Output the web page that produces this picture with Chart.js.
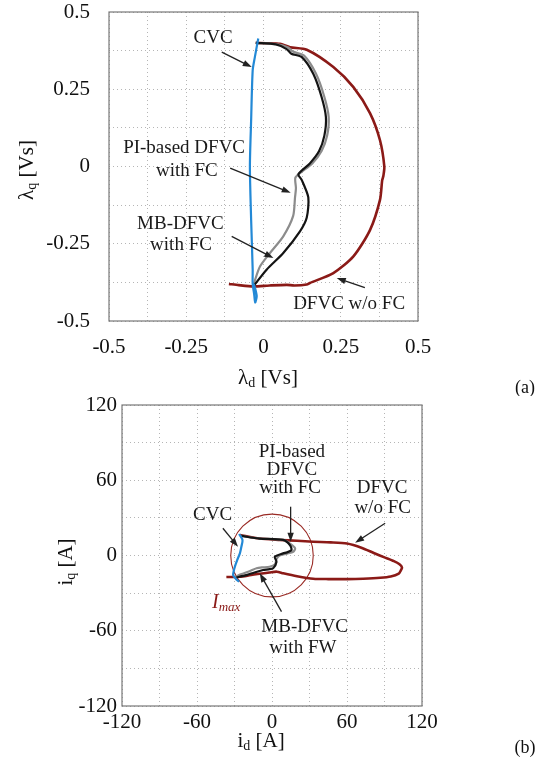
<!DOCTYPE html>
<html><head><meta charset="utf-8">
<script src="https://cdn.jsdelivr.net/npm/chart.js@4.4.0/dist/chart.umd.min.js"></script>
<style>
html,body{margin:0;padding:0;background:#fff;}
#wrap{position:relative;width:549px;height:767px;overflow:hidden;background:#fff;}
canvas{position:absolute;left:0;}
</style></head><body>
<div id="wrap">
<canvas id="ca" width="549" height="396" style="top:0;width:549px;height:396px"></canvas>
<canvas id="cb" width="549" height="371" style="top:396px;width:549px;height:371px"></canvas>
</div>
<script>
// ---------- (a) flux plane data ----------
const aGrid   = [-0.5,-0.375,-0.25,-0.125,0,0.125,0.25,0.375,0.5];
const aTicks  = [-0.5,-0.25,0,0.25,0.5];
const aCvcX = [-0.017,-0.028,-0.035,-0.040,-0.044,-0.040,-0.035,-0.035,-0.030,-0.027,-0.022,-0.027,-0.032];
const aCvcY = [0.414,0.354,0.311,0.150,0.000,-0.173,-0.334,-0.380,-0.415,-0.440,-0.420,-0.395,-0.380];
const aMbX = [-0.025,0.040,0.075,0.090,0.124,0.161,0.188,0.202,0.197,0.180,0.150,0.113,0.124,0.145,0.140,0.118,0.064,0.010,-0.033];
const aMbY = [0.400,0.395,0.380,0.365,0.354,0.300,0.225,0.160,0.100,0.050,0.010,-0.025,-0.044,-0.100,-0.165,-0.210,-0.280,-0.334,-0.388];
const aPiX = [-0.025,0.040,0.080,0.095,0.132,0.170,0.197,0.211,0.206,0.188,0.158,0.120,0.103,0.105,0.102,0.096,0.064,0.021,-0.011,-0.027,-0.033];
const aPiY = [0.400,0.396,0.385,0.372,0.358,0.300,0.225,0.160,0.100,0.050,0.010,-0.020,-0.037,-0.070,-0.100,-0.160,-0.226,-0.280,-0.323,-0.366,-0.388];
const aRedX = [-0.025,0.020,0.053,0.086,0.140,0.226,0.291,0.345,0.377,0.391,0.388,0.384,0.377,0.345,0.291,0.226,0.150,0.140,0.100,0.075,0.020,-0.033,-0.080,-0.112];
const aRedY = [0.400,0.399,0.397,0.386,0.378,0.322,0.257,0.172,0.085,0.000,-0.030,-0.045,-0.108,-0.205,-0.291,-0.345,-0.377,-0.382,-0.385,-0.383,-0.385,-0.388,-0.384,-0.380];

// ---------- (b) current plane data ----------
const bGrid  = [-120,-90,-60,-30,0,30,60,90,120];
const bTicks = [-120,-60,0,60,120];
const bImax = 33;
const bCvcX = [-26.3,-23.6,-24.5,-25.7,-28,-29.7,-31.1,-29,-26.3];
const bCvcY = [17.1,12.4,7,1.7,-4,-8.9,-15.6,-18.5,-20.9];
const bMbX = [-24.5,-10,8.9,14.3,15.6,12,8.9,2.2,3.6,0.9,-3,-7.1,-14,-20.5,-28.5];
const bMbY = [15.6,13.5,12.4,8.4,4.4,2.5,1.7,-1,-5,-10.2,-11,-11.6,-13.5,-15.6,-17.4];
const bPiX = [-24.5,-10,8.9,15,18.5,17,12,6,3.5,2.5,-2,-8,-12.4,-18,-25,-30];
const bPiY = [15.6,13.5,12.4,9,5.7,3,1.5,0,-3,-7,-9,-9.5,-10.2,-12.5,-15,-17.5];
const bRedX = [-25.7,-10,6.4,20,33,47,60,72,81.4,90,97.5,102,104,103,101.4,95,86.6,73,60,45,33,20,9,3.8,-2,-9.8,-18,-25.8,-36.5];
const bRedY = [16.4,13.5,12.4,11.7,11,10.5,9.5,6,2,-1.5,-4.5,-7,-9.5,-12,-14.5,-16.8,-17.8,-18.5,-18.8,-18.8,-18.5,-16.5,-14.2,-12.9,-13.5,-14.5,-15.8,-16.9,-17.2];

// ---------- annotations (data coordinates) ----------
const aNotes = [
  {t:'CVC', x:-0.163, y:0.415},
  {t:'PI-based DFVC', x:-0.257, y:0.060},
  {t:'with FC', x:-0.248, y:-0.015},
  {t:'MB-DFVC', x:-0.269, y:-0.187},
  {t:'with FC', x:-0.267, y:-0.253},
  {t:'DFVC w/o FC', x:0.277, y:-0.444}
];
const aArrows = [
  [-0.135,0.370,-0.038,0.322],
  [-0.108,-0.005,0.088,-0.085],
  [-0.103,-0.226,0.032,-0.296],
  [0.328,-0.392,0.237,-0.361]
];
const bNotes = [
  {t:'PI-based', x:15.9, y:82.5},
  {t:'DFVC', x:15.9, y:68.2},
  {t:'with FC', x:14.5, y:53.8},
  {t:'DFVC', x:88.1, y:53.8},
  {t:'w/o FC', x:88.5, y:37.5},
  {t:'CVC', x:-47.5, y:32.3},
  {t:'MB-DFVC', x:26.1, y:-57.4},
  {t:'with FW', x:24.7, y:-73.4}
];
const bArrows = [
  [14.9,38.9,14.9,11],
  [90.5,25.7,66.5,10.2],
  [-39.3,21.7,-27.2,7],
  [7.6,-44.8,-9.8,-14.2]
];

const SERIF = '"Liberation Serif", "DejaVu Serif", serif';
const RED = '#8b1a17', BLUE = '#2389d6', BLACK = '#141414', GRAY = '#8c8c8c';
const W = 549;

function pts(xs, ys){ return xs.map((x,i)=>({x:x, y:ys[i]})); }
function ds(xs, ys, color, w){
  return {data: pts(xs,ys), showLine:true, borderColor:color, backgroundColor:color, borderWidth:w, pointRadius:0, tension:0.25};
}

function drawArrow(ctx, x1,y1,x2,y2){
  ctx.save();
  ctx.strokeStyle='#222'; ctx.fillStyle='#222'; ctx.lineWidth=1.3;
  const a=Math.atan2(y2-y1,x2-x1), hl=9, hw=3.2;
  ctx.beginPath(); ctx.moveTo(x1,y1); ctx.lineTo(x2-hl*0.8*Math.cos(a), y2-hl*0.8*Math.sin(a)); ctx.stroke();
  ctx.beginPath(); ctx.moveTo(x2,y2);
  ctx.lineTo(x2-hl*Math.cos(a)+hw*Math.sin(a), y2-hl*Math.sin(a)-hw*Math.cos(a));
  ctx.lineTo(x2-hl*Math.cos(a)-hw*Math.sin(a), y2-hl*Math.sin(a)+hw*Math.cos(a));
  ctx.closePath(); ctx.fill();
  ctx.restore();
}
function drawRich(ctx, parts, cx, cy, rot, color, align){
  ctx.save();
  ctx.translate(cx, cy); if (rot) ctx.rotate(rot);
  let w=0;
  parts.forEach(p=>{ ctx.font=p.font; p.w=ctx.measureText(p.t).width; w+=p.w; });
  let x = align==='left' ? 0 : -w/2;
  ctx.textBaseline='middle'; ctx.textAlign='left'; ctx.fillStyle=color||'#111';
  parts.forEach(p=>{ ctx.font=p.font; ctx.fillText(p.t, x, p.dy||0); x+=p.w; });
  ctx.restore();
}

function makeChart(id, H, area, cfg){
  const deco = {
    id:'deco'+id,
    beforeDatasetsDraw(chart){
      const ctx=chart.ctx, ca=chart.chartArea, xs=chart.scales.x, ys=chart.scales.y;
      ctx.save();
      ctx.strokeStyle='#777'; ctx.lineWidth=1.2;
      ctx.strokeRect(ca.left, ca.top, ca.right-ca.left, ca.bottom-ca.top);
      ctx.restore();
      if (cfg.circle){
        const cx=xs.getPixelForValue(0), cy=ys.getPixelForValue(0);
        const rx=xs.getPixelForValue(cfg.circle)-cx, ry=cy-ys.getPixelForValue(cfg.circle);
        ctx.save(); ctx.strokeStyle='#9a2b25'; ctx.lineWidth=1.1;
        ctx.beginPath(); ctx.ellipse(cx,cy,rx,ry,0,0,Math.PI*2); ctx.stroke(); ctx.restore();
      }
    },
    afterDatasetsDraw(chart){
      const ctx=chart.ctx, xs=chart.scales.x, ys=chart.scales.y;
      cfg.arrows.forEach(a=>drawArrow(ctx, xs.getPixelForValue(a[0]), ys.getPixelForValue(a[1]), xs.getPixelForValue(a[2]), ys.getPixelForValue(a[3])));
      ctx.save();
      ctx.font='19px '+SERIF; ctx.fillStyle='#1a1a1a'; ctx.textAlign='center'; ctx.textBaseline='middle';
      cfg.notes.forEach(n=>ctx.fillText(n.t, xs.getPixelForValue(n.x), ys.getPixelForValue(n.y)));
      ctx.restore();
      if (cfg.imax){
        drawRich(ctx, [{t:'I', font:'italic 20px '+SERIF},{t:'max', font:'italic 13px '+SERIF, dy:4}],
          xs.getPixelForValue(cfg.imax.x), ys.getPixelForValue(cfg.imax.y), 0, RED, 'left');
      }
    },
    afterDraw(chart){
      const ctx=chart.ctx, ca=chart.chartArea;
      drawRich(ctx, cfg.xTitle, cfg.xTitlePos[0], cfg.xTitlePos[1], 0, '#111');
      drawRich(ctx, cfg.yTitle, cfg.yTitlePos[0], cfg.yTitlePos[1], -Math.PI/2, '#111');
      ctx.save(); ctx.font='18px '+SERIF; ctx.fillStyle='#111'; ctx.textAlign='center'; ctx.textBaseline='middle';
      ctx.fillText(cfg.tag, cfg.tagPos[0], cfg.tagPos[1]); ctx.restore();
    }
  };
  const tickFont = {family:SERIF, size:21};
  return new Chart(document.getElementById(id), {
    type:'scatter',
    data:{datasets: cfg.datasets},
    options:{
      responsive:false, animation:false, maintainAspectRatio:false,
      layout:{padding:{left:0, top:area.top, right:W-area.right, bottom:0}},
      plugins:{legend:{display:false}, tooltip:{enabled:false}},
      scales:{
        x:{type:'linear', min:cfg.grid[0], max:cfg.grid[cfg.grid.length-1],
          afterBuildTicks:s=>{ s.ticks = cfg.grid.map(v=>({value:v})); },
          afterFit:s=>{ s.height = H-area.bottom; s.paddingLeft=0; s.paddingRight=0; },
          ticks:{autoSkip:false, maxRotation:0, padding:cfg.xPad, color:'#111', font:tickFont,
            callback:v=>cfg.labels.includes(v)?String(v):''},
          grid:{color:'#b5b5b5', lineWidth:1, drawTicks:false},
          border:{display:false, dash:[1,3]}},
        y:{type:'linear', min:cfg.grid[0], max:cfg.grid[cfg.grid.length-1],
          afterBuildTicks:s=>{ s.ticks = cfg.grid.map(v=>({value:v})); },
          afterFit:s=>{ s.width = area.left; s.paddingTop=0; s.paddingBottom=0; },
          ticks:{autoSkip:false, padding:cfg.yPad, color:'#111', font:tickFont,
            callback:v=>cfg.labels.includes(v)?String(v):''},
          grid:{color:'#b5b5b5', lineWidth:1, drawTicks:false},
          border:{display:false, dash:[1,3]}}
      }
    },
    plugins:[deco]
  });
}

makeChart('ca', 396, {left:109, right:418, top:12, bottom:321}, {
  grid:aGrid, labels:aTicks, xPad:14, yPad:19,
  datasets:[ ds(aCvcX,aCvcY,BLUE,2.2), ds(aMbX,aMbY,BLACK,2.2), ds(aPiX,aPiY,GRAY,2.2), ds(aRedX,aRedY,RED,2.6) ],
  notes:aNotes, arrows:aArrows,
  xTitle:[{t:'λ',font:'21px '+SERIF},{t:'d',font:'14px '+SERIF,dy:5},{t:' [Vs]',font:'21px '+SERIF}],
  xTitlePos:[268,378],
  yTitle:[{t:'λ',font:'21px '+SERIF},{t:'q',font:'14px '+SERIF,dy:5},{t:' [Vs]',font:'21px '+SERIF}],
  yTitlePos:[27,170],
  tag:'(a)', tagPos:[525,388]
});
makeChart('cb', 371, {left:122, right:422, top:9, bottom:310}, {
  grid:bGrid, labels:bTicks, xPad:4, yPad:5,
  datasets:[ ds(bCvcX,bCvcY,BLUE,2.2), ds(bMbX,bMbY,BLACK,2.2), ds(bPiX,bPiY,GRAY,2.2), ds(bRedX,bRedY,RED,2.6) ],
  notes:bNotes, arrows:bArrows, circle:bImax, imax:{x:-48, y:-38},
  xTitle:[{t:'i',font:'21px '+SERIF},{t:'d',font:'14px '+SERIF,dy:5},{t:' [A]',font:'21px '+SERIF}],
  xTitlePos:[261,345],
  yTitle:[{t:'i',font:'21px '+SERIF},{t:'q',font:'14px '+SERIF,dy:5},{t:' [A]',font:'21px '+SERIF}],
  yTitlePos:[66,166],
  tag:'(b)', tagPos:[525,352]
});
</script>
</body></html>
